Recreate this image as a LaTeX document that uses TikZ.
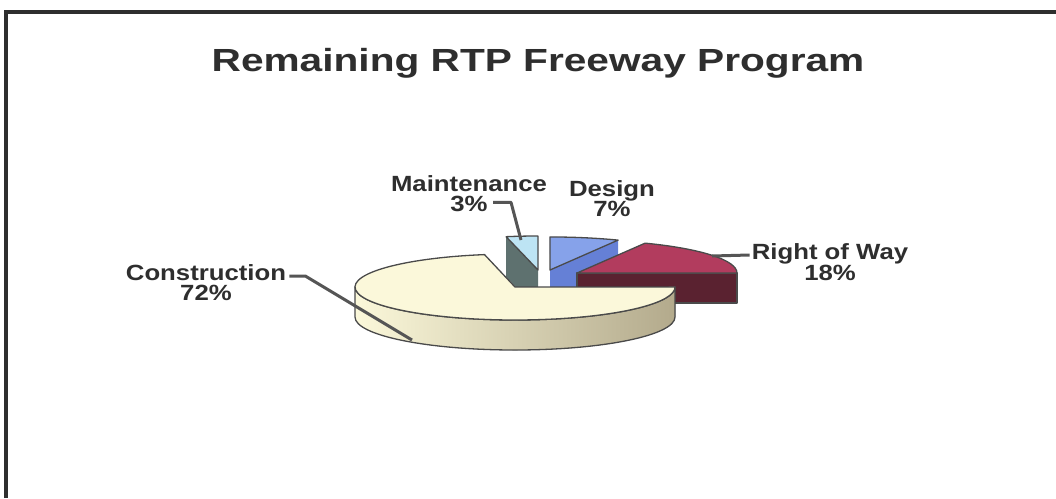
\documentclass[tikz,border=0pt]{standalone}
\usepackage{fontspec}
\setmainfont{Liberation Sans}
\usepackage{tikz}
\usetikzlibrary{positioning}
\definecolor{txtgray}{HTML}{2E2E2E}
\definecolor{leadgray}{HTML}{555555}
\definecolor{edgegray}{HTML}{4A4A4A}
\definecolor{contop}{HTML}{FBF8DA}
\definecolor{conside}{HTML}{B3AA8C}
\definecolor{rowtop}{HTML}{B23C5E}
\definecolor{rowside}{HTML}{5A2230}
\definecolor{destop}{HTML}{86A2EA}
\definecolor{desside}{HTML}{6580D6}
\definecolor{mnttop}{HTML}{BDE4F4}
\definecolor{mntside}{HTML}{5E716F}

\begin{document}
\begin{tikzpicture}[x=1pt, y=1pt,
    lbl/.style={font=\bfseries\fontsize{22}{20}\selectfont, text=txtgray,
      align=center, inner sep=0pt, xscale=1.17},
    leader/.style={draw=leadgray, line width=3pt, line join=round},
    rim/.style={draw=edgegray, line width=1.3pt, line join=round},
    pie/.style={x radius=160, y radius=33}]
      \useasboundingbox (0,0) rectangle (1056,-498);
      \fill[white] (0,0) rectangle (1056,-498);
      \draw[txtgray, line width=3.5pt] (6,-498) -- (6,-12) -- (1056,-12);

      \coordinate (c0) at (515,-287);
      \coordinate (r0) at (577,-273);
      \coordinate (d0) at (550,-270);
      \coordinate (m0) at (538,-270);

      % maintenance
      \fill[mntside] (m0) -- ++(-32,33) -- ++(0,-40) -- ++(32,-33) -- cycle;
      \filldraw[mnttop, rim] (m0) -- ++(0,34) arc[start angle=90, end angle=101.5, x radius=160, y radius=34] -- cycle;
      % design
      \fill[desside] (d0) -- ++(68.1,29.9) -- ++(0,-30) -- ++(-68.1,-29.9) -- cycle;
      \filldraw[destop, rim] (d0) -- ++(68.1,29.9) arc[start angle=64.8, end angle=90, pie] -- cycle;
      % right of way
      \filldraw[rowside, rim] (r0) rectangle ++(160,-30);
      \filldraw[rowtop, rim] (r0) -- ++(160,0) arc[start angle=0, end angle=64.8, pie] -- cycle;
      % construction
      \filldraw[left color=contop, middle color=contop!55!conside, right color=conside, rim]
        (c0) ++(-160,0) arc[start angle=180, end angle=360, pie] -- ++(0,-30)
        arc[start angle=360, end angle=180, pie] -- cycle;
      \filldraw[contop, rim] (c0) -- ++(-30.5,32.4) arc[start angle=101, end angle=360, pie] -- cycle;

      \node[font=\bfseries\fontsize{32}{32}\selectfont, text=txtgray, xscale=1.27] (title) at (538,-63) {Remaining RTP Freeway Program};

      \node[lbl] (con) at (206,-283) {Construction\\72\%};
      \node[lbl] (mnt) at (469,-194) {Maintenance\\3\%};
      \node[lbl] (des) at (612,-199) {Design\\7\%};
      \node[lbl] (row) at (830,-262) {Right of Way\\18\%};

      \coordinate (conend) at (412,-340);
      \coordinate (mntend) at (521,-240);
      \coordinate (rowend) at (712,-256);
      \draw[leader] ([xshift=3pt, yshift=7pt]con.east) -- ++(16,0) -- (conend);
      \draw[leader] ([xshift=24pt, yshift=10pt]mnt.south) -- ++(18,0) -- (mntend);
      \draw[leader] (rowend) -- ([xshift=-2pt, yshift=7pt]row.west);
    \end{tikzpicture}
\end{document}
